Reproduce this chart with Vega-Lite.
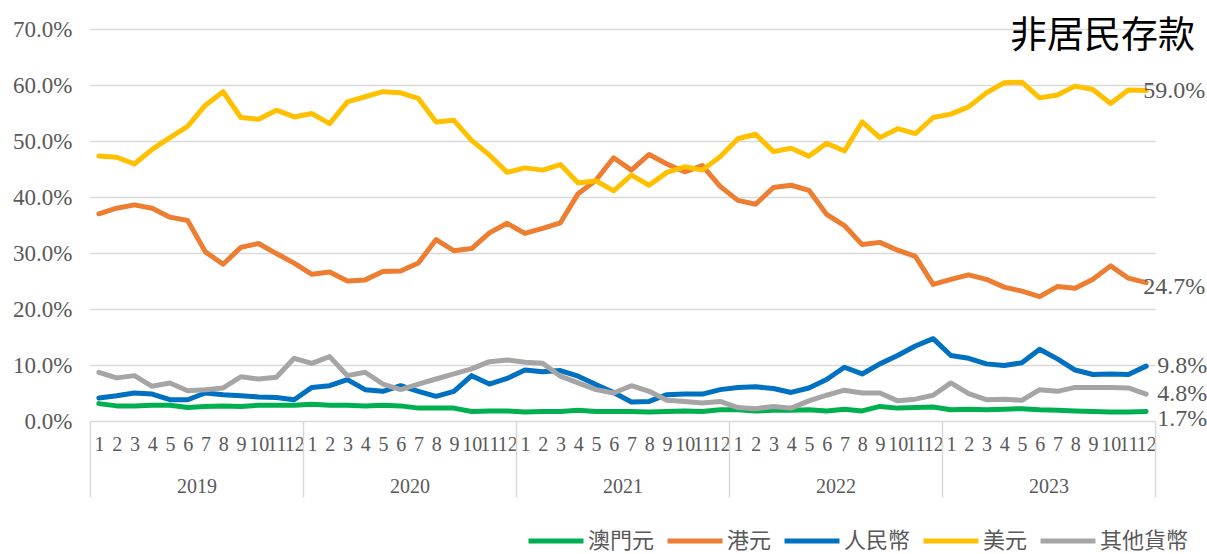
{
  "$schema": "https://vega.github.io/schema/vega-lite/v6.json",
  "width": 1065,
  "height": 392,
  "autosize": {"type": "none"},
  "padding": {"left": 90, "top": 29, "right": 52, "bottom": 133},
  "background": "white",
  "title": {"text": "非居民存款", "anchor": "end", "orient": "top", "frame": "group", "offset": -38, "dx": 40, "fontSize": 37, "font": "Noto Sans CJK TC", "fontWeight": "normal", "color": "#000000"},
  "config": {"view": {"stroke": null}},
  "datasets": {
    "d": [
      {"d":"2019-01","s":"澳門元","v":0.031},{"d":"2019-02","s":"澳門元","v":0.027},{"d":"2019-03","s":"澳門元","v":0.027},{"d":"2019-04","s":"澳門元","v":0.028},{"d":"2019-05","s":"澳門元","v":0.028},{"d":"2019-06","s":"澳門元","v":0.024},{"d":"2019-07","s":"澳門元","v":0.026},{"d":"2019-08","s":"澳門元","v":0.027},{"d":"2019-09","s":"澳門元","v":0.026},{"d":"2019-10","s":"澳門元","v":0.028},{"d":"2019-11","s":"澳門元","v":0.028},{"d":"2019-12","s":"澳門元","v":0.028},
      {"d":"2020-01","s":"澳門元","v":0.030},{"d":"2020-02","s":"澳門元","v":0.028},{"d":"2020-03","s":"澳門元","v":0.028},{"d":"2020-04","s":"澳門元","v":0.027},{"d":"2020-05","s":"澳門元","v":0.028},{"d":"2020-06","s":"澳門元","v":0.027},{"d":"2020-07","s":"澳門元","v":0.023},{"d":"2020-08","s":"澳門元","v":0.023},{"d":"2020-09","s":"澳門元","v":0.023},{"d":"2020-10","s":"澳門元","v":0.017},{"d":"2020-11","s":"澳門元","v":0.018},{"d":"2020-12","s":"澳門元","v":0.018},
      {"d":"2021-01","s":"澳門元","v":0.016},{"d":"2021-02","s":"澳門元","v":0.017},{"d":"2021-03","s":"澳門元","v":0.017},{"d":"2021-04","s":"澳門元","v":0.019},{"d":"2021-05","s":"澳門元","v":0.017},{"d":"2021-06","s":"澳門元","v":0.017},{"d":"2021-07","s":"澳門元","v":0.017},{"d":"2021-08","s":"澳門元","v":0.016},{"d":"2021-09","s":"澳門元","v":0.017},{"d":"2021-10","s":"澳門元","v":0.018},{"d":"2021-11","s":"澳門元","v":0.017},{"d":"2021-12","s":"澳門元","v":0.020},
      {"d":"2022-01","s":"澳門元","v":0.020},{"d":"2022-02","s":"澳門元","v":0.018},{"d":"2022-03","s":"澳門元","v":0.019},{"d":"2022-04","s":"澳門元","v":0.019},{"d":"2022-05","s":"澳門元","v":0.020},{"d":"2022-06","s":"澳門元","v":0.018},{"d":"2022-07","s":"澳門元","v":0.021},{"d":"2022-08","s":"澳門元","v":0.018},{"d":"2022-09","s":"澳門元","v":0.026},{"d":"2022-10","s":"澳門元","v":0.023},{"d":"2022-11","s":"澳門元","v":0.024},{"d":"2022-12","s":"澳門元","v":0.025},
      {"d":"2023-01","s":"澳門元","v":0.020},{"d":"2023-02","s":"澳門元","v":0.021},{"d":"2023-03","s":"澳門元","v":0.020},{"d":"2023-04","s":"澳門元","v":0.021},{"d":"2023-05","s":"澳門元","v":0.022},{"d":"2023-06","s":"澳門元","v":0.020},{"d":"2023-07","s":"澳門元","v":0.019},{"d":"2023-08","s":"澳門元","v":0.018},{"d":"2023-09","s":"澳門元","v":0.017},{"d":"2023-10","s":"澳門元","v":0.016},{"d":"2023-11","s":"澳門元","v":0.016},{"d":"2023-12","s":"澳門元","v":0.017},

      {"d":"2019-01","s":"港元","v":0.370},{"d":"2019-02","s":"港元","v":0.380},{"d":"2019-03","s":"港元","v":0.386},{"d":"2019-04","s":"港元","v":0.380},{"d":"2019-05","s":"港元","v":0.364},{"d":"2019-06","s":"港元","v":0.358},{"d":"2019-07","s":"港元","v":0.302},{"d":"2019-08","s":"港元","v":0.280},{"d":"2019-09","s":"港元","v":0.310},{"d":"2019-10","s":"港元","v":0.317},{"d":"2019-11","s":"港元","v":0.299},{"d":"2019-12","s":"港元","v":0.282},
      {"d":"2020-01","s":"港元","v":0.262},{"d":"2020-02","s":"港元","v":0.266},{"d":"2020-03","s":"港元","v":0.250},{"d":"2020-04","s":"港元","v":0.252},{"d":"2020-05","s":"港元","v":0.267},{"d":"2020-06","s":"港元","v":0.268},{"d":"2020-07","s":"港元","v":0.282},{"d":"2020-08","s":"港元","v":0.324},{"d":"2020-09","s":"港元","v":0.304},{"d":"2020-10","s":"港元","v":0.308},{"d":"2020-11","s":"港元","v":0.336},{"d":"2020-12","s":"港元","v":0.353},
      {"d":"2021-01","s":"港元","v":0.335},{"d":"2021-02","s":"港元","v":0.344},{"d":"2021-03","s":"港元","v":0.354},{"d":"2021-04","s":"港元","v":0.406},{"d":"2021-05","s":"港元","v":0.430},{"d":"2021-06","s":"港元","v":0.470},{"d":"2021-07","s":"港元","v":0.448},{"d":"2021-08","s":"港元","v":0.476},{"d":"2021-09","s":"港元","v":0.459},{"d":"2021-10","s":"港元","v":0.445},{"d":"2021-11","s":"港元","v":0.456},{"d":"2021-12","s":"港元","v":0.419},
      {"d":"2022-01","s":"港元","v":0.394},{"d":"2022-02","s":"港元","v":0.387},{"d":"2022-03","s":"港元","v":0.417},{"d":"2022-04","s":"港元","v":0.421},{"d":"2022-05","s":"港元","v":0.412},{"d":"2022-06","s":"港元","v":0.369},{"d":"2022-07","s":"港元","v":0.349},{"d":"2022-08","s":"港元","v":0.315},{"d":"2022-09","s":"港元","v":0.319},{"d":"2022-10","s":"港元","v":0.305},{"d":"2022-11","s":"港元","v":0.294},{"d":"2022-12","s":"港元","v":0.244},
      {"d":"2023-01","s":"港元","v":0.253},{"d":"2023-02","s":"港元","v":0.261},{"d":"2023-03","s":"港元","v":0.253},{"d":"2023-04","s":"港元","v":0.239},{"d":"2023-05","s":"港元","v":0.232},{"d":"2023-06","s":"港元","v":0.222},{"d":"2023-07","s":"港元","v":0.240},{"d":"2023-08","s":"港元","v":0.237},{"d":"2023-09","s":"港元","v":0.253},{"d":"2023-10","s":"港元","v":0.277},{"d":"2023-11","s":"港元","v":0.255},{"d":"2023-12","s":"港元","v":0.247},

      {"d":"2019-01","s":"人民幣","v":0.041},{"d":"2019-02","s":"人民幣","v":0.045},{"d":"2019-03","s":"人民幣","v":0.050},{"d":"2019-04","s":"人民幣","v":0.048},{"d":"2019-05","s":"人民幣","v":0.038},{"d":"2019-06","s":"人民幣","v":0.038},{"d":"2019-07","s":"人民幣","v":0.050},{"d":"2019-08","s":"人民幣","v":0.047},{"d":"2019-09","s":"人民幣","v":0.045},{"d":"2019-10","s":"人民幣","v":0.043},{"d":"2019-11","s":"人民幣","v":0.042},{"d":"2019-12","s":"人民幣","v":0.038},
      {"d":"2020-01","s":"人民幣","v":0.060},{"d":"2020-02","s":"人民幣","v":0.063},{"d":"2020-03","s":"人民幣","v":0.074},{"d":"2020-04","s":"人民幣","v":0.056},{"d":"2020-05","s":"人民幣","v":0.053},{"d":"2020-06","s":"人民幣","v":0.063},{"d":"2020-07","s":"人民幣","v":0.053},{"d":"2020-08","s":"人民幣","v":0.044},{"d":"2020-09","s":"人民幣","v":0.053},{"d":"2020-10","s":"人民幣","v":0.081},{"d":"2020-11","s":"人民幣","v":0.066},{"d":"2020-12","s":"人民幣","v":0.076},
      {"d":"2021-01","s":"人民幣","v":0.091},{"d":"2021-02","s":"人民幣","v":0.088},{"d":"2021-03","s":"人民幣","v":0.090},{"d":"2021-04","s":"人民幣","v":0.080},{"d":"2021-05","s":"人民幣","v":0.065},{"d":"2021-06","s":"人民幣","v":0.051},{"d":"2021-07","s":"人民幣","v":0.034},{"d":"2021-08","s":"人民幣","v":0.035},{"d":"2021-09","s":"人民幣","v":0.047},{"d":"2021-10","s":"人民幣","v":0.048},{"d":"2021-11","s":"人民幣","v":0.048},{"d":"2021-12","s":"人民幣","v":0.056},
      {"d":"2022-01","s":"人民幣","v":0.060},{"d":"2022-02","s":"人民幣","v":0.061},{"d":"2022-03","s":"人民幣","v":0.058},{"d":"2022-04","s":"人民幣","v":0.051},{"d":"2022-05","s":"人民幣","v":0.059},{"d":"2022-06","s":"人民幣","v":0.074},{"d":"2022-07","s":"人民幣","v":0.096},{"d":"2022-08","s":"人民幣","v":0.084},{"d":"2022-09","s":"人民幣","v":0.102},{"d":"2022-10","s":"人民幣","v":0.117},{"d":"2022-11","s":"人民幣","v":0.134},{"d":"2022-12","s":"人民幣","v":0.147},
      {"d":"2023-01","s":"人民幣","v":0.117},{"d":"2023-02","s":"人民幣","v":0.112},{"d":"2023-03","s":"人民幣","v":0.102},{"d":"2023-04","s":"人民幣","v":0.099},{"d":"2023-05","s":"人民幣","v":0.104},{"d":"2023-06","s":"人民幣","v":0.128},{"d":"2023-07","s":"人民幣","v":0.111},{"d":"2023-08","s":"人民幣","v":0.091},{"d":"2023-09","s":"人民幣","v":0.083},{"d":"2023-10","s":"人民幣","v":0.084},{"d":"2023-11","s":"人民幣","v":0.083},{"d":"2023-12","s":"人民幣","v":0.098},

      {"d":"2019-01","s":"美元","v":0.473},{"d":"2019-02","s":"美元","v":0.471},{"d":"2019-03","s":"美元","v":0.459},{"d":"2019-04","s":"美元","v":0.485},{"d":"2019-05","s":"美元","v":0.506},{"d":"2019-06","s":"美元","v":0.526},{"d":"2019-07","s":"美元","v":0.564},{"d":"2019-08","s":"美元","v":0.588},{"d":"2019-09","s":"美元","v":0.542},{"d":"2019-10","s":"美元","v":0.539},{"d":"2019-11","s":"美元","v":0.555},{"d":"2019-12","s":"美元","v":0.543},
      {"d":"2020-01","s":"美元","v":0.549},{"d":"2020-02","s":"美元","v":0.531},{"d":"2020-03","s":"美元","v":0.570},{"d":"2020-04","s":"美元","v":0.579},{"d":"2020-05","s":"美元","v":0.588},{"d":"2020-06","s":"美元","v":0.586},{"d":"2020-07","s":"美元","v":0.576},{"d":"2020-08","s":"美元","v":0.534},{"d":"2020-09","s":"美元","v":0.537},{"d":"2020-10","s":"美元","v":0.501},{"d":"2020-11","s":"美元","v":0.475},{"d":"2020-12","s":"美元","v":0.444},
      {"d":"2021-01","s":"美元","v":0.452},{"d":"2021-02","s":"美元","v":0.448},{"d":"2021-03","s":"美元","v":0.458},{"d":"2021-04","s":"美元","v":0.425},{"d":"2021-05","s":"美元","v":0.429},{"d":"2021-06","s":"美元","v":0.411},{"d":"2021-07","s":"美元","v":0.439},{"d":"2021-08","s":"美元","v":0.421},{"d":"2021-09","s":"美元","v":0.444},{"d":"2021-10","s":"美元","v":0.454},{"d":"2021-11","s":"美元","v":0.448},{"d":"2021-12","s":"美元","v":0.472},
      {"d":"2022-01","s":"美元","v":0.504},{"d":"2022-02","s":"美元","v":0.512},{"d":"2022-03","s":"美元","v":0.481},{"d":"2022-04","s":"美元","v":0.487},{"d":"2022-05","s":"美元","v":0.473},{"d":"2022-06","s":"美元","v":0.496},{"d":"2022-07","s":"美元","v":0.482},{"d":"2022-08","s":"美元","v":0.534},{"d":"2022-09","s":"美元","v":0.506},{"d":"2022-10","s":"美元","v":0.522},{"d":"2022-11","s":"美元","v":0.513},{"d":"2022-12","s":"美元","v":0.542},
      {"d":"2023-01","s":"美元","v":0.548},{"d":"2023-02","s":"美元","v":0.561},{"d":"2023-03","s":"美元","v":0.586},{"d":"2023-04","s":"美元","v":0.604},{"d":"2023-05","s":"美元","v":0.605},{"d":"2023-06","s":"美元","v":0.577},{"d":"2023-07","s":"美元","v":0.582},{"d":"2023-08","s":"美元","v":0.598},{"d":"2023-09","s":"美元","v":0.592},{"d":"2023-10","s":"美元","v":0.567},{"d":"2023-11","s":"美元","v":0.591},{"d":"2023-12","s":"美元","v":0.590},

      {"d":"2019-01","s":"其他貨幣","v":0.087},{"d":"2019-02","s":"其他貨幣","v":0.077},{"d":"2019-03","s":"其他貨幣","v":0.081},{"d":"2019-04","s":"其他貨幣","v":0.062},{"d":"2019-05","s":"其他貨幣","v":0.068},{"d":"2019-06","s":"其他貨幣","v":0.054},{"d":"2019-07","s":"其他貨幣","v":0.056},{"d":"2019-08","s":"其他貨幣","v":0.059},{"d":"2019-09","s":"其他貨幣","v":0.079},{"d":"2019-10","s":"其他貨幣","v":0.075},{"d":"2019-11","s":"其他貨幣","v":0.078},{"d":"2019-12","s":"其他貨幣","v":0.112},
      {"d":"2020-01","s":"其他貨幣","v":0.103},{"d":"2020-02","s":"其他貨幣","v":0.115},{"d":"2020-03","s":"其他貨幣","v":0.081},{"d":"2020-04","s":"其他貨幣","v":0.087},{"d":"2020-05","s":"其他貨幣","v":0.066},{"d":"2020-06","s":"其他貨幣","v":0.056},{"d":"2020-07","s":"其他貨幣","v":0.066},{"d":"2020-08","s":"其他貨幣","v":0.075},{"d":"2020-09","s":"其他貨幣","v":0.084},{"d":"2020-10","s":"其他貨幣","v":0.093},{"d":"2020-11","s":"其他貨幣","v":0.106},{"d":"2020-12","s":"其他貨幣","v":0.109},
      {"d":"2021-01","s":"其他貨幣","v":0.105},{"d":"2021-02","s":"其他貨幣","v":0.103},{"d":"2021-03","s":"其他貨幣","v":0.080},{"d":"2021-04","s":"其他貨幣","v":0.068},{"d":"2021-05","s":"其他貨幣","v":0.056},{"d":"2021-06","s":"其他貨幣","v":0.050},{"d":"2021-07","s":"其他貨幣","v":0.063},{"d":"2021-08","s":"其他貨幣","v":0.053},{"d":"2021-09","s":"其他貨幣","v":0.037},{"d":"2021-10","s":"其他貨幣","v":0.035},{"d":"2021-11","s":"其他貨幣","v":0.032},{"d":"2021-12","s":"其他貨幣","v":0.035},
      {"d":"2022-01","s":"其他貨幣","v":0.024},{"d":"2022-02","s":"其他貨幣","v":0.022},{"d":"2022-03","s":"其他貨幣","v":0.026},{"d":"2022-04","s":"其他貨幣","v":0.023},{"d":"2022-05","s":"其他貨幣","v":0.036},{"d":"2022-06","s":"其他貨幣","v":0.046},{"d":"2022-07","s":"其他貨幣","v":0.055},{"d":"2022-08","s":"其他貨幣","v":0.050},{"d":"2022-09","s":"其他貨幣","v":0.050},{"d":"2022-10","s":"其他貨幣","v":0.036},{"d":"2022-11","s":"其他貨幣","v":0.039},{"d":"2022-12","s":"其他貨幣","v":0.046},
      {"d":"2023-01","s":"其他貨幣","v":0.068},{"d":"2023-02","s":"其他貨幣","v":0.049},{"d":"2023-03","s":"其他貨幣","v":0.038},{"d":"2023-04","s":"其他貨幣","v":0.039},{"d":"2023-05","s":"其他貨幣","v":0.037},{"d":"2023-06","s":"其他貨幣","v":0.056},{"d":"2023-07","s":"其他貨幣","v":0.053},{"d":"2023-08","s":"其他貨幣","v":0.060},{"d":"2023-09","s":"其他貨幣","v":0.060},{"d":"2023-10","s":"其他貨幣","v":0.060},{"d":"2023-11","s":"其他貨幣","v":0.059},{"d":"2023-12","s":"其他貨幣","v":0.048}
    ]
  },
  "data": {"name": "d"},
  "encoding": {
    "y": {
      "field": "v", "type": "quantitative",
      "scale": {"domain": [0, 0.7], "nice": false, "zero": true},
      "axis": {
        "values": [0, 0.1, 0.2, 0.3, 0.4, 0.5, 0.6, 0.7],
        "format": ".1%", "title": null, "grid": true, "gridColor": "#D9D9D9", "gridWidth": 1.5,
        "domain": false, "ticks": false, "labelPadding": 18,
        "labelFont": "Liberation Serif", "labelFontSize": 23, "labelColor": "#595959"
      }
    }
  },
  "layer": [
    {
      "mark": {"type": "line", "strokeWidth": 5, "strokeCap": "round", "strokeJoin": "round"},
      "encoding": {
        "x": {
          "field": "d", "type": "ordinal",
          "axis": {
            "orient": "bottom", "title": null, "labelAngle": 0, "labelOverlap": false, "ticks": false, "domain": false, "grid": false,
            "labelExpr": "toNumber(slice(datum.value, 5))", "labelPadding": 13,
            "labelFont": "Liberation Serif", "labelFontSize": 20, "labelColor": "#595959"
          }
        },
        "color": {
          "field": "s", "type": "nominal",
          "scale": {"domain": ["澳門元", "港元", "人民幣", "美元", "其他貨幣"], "range": ["#00B050", "#ED7D31", "#0070C0", "#FFC000", "#A5A5A5"]},
          "legend": {
            "orient": "none", "legendX": 436, "legendY": 482, "direction": "horizontal", "title": null,
            "symbolType": "stroke", "symbolSize": 3025, "symbolStrokeWidth": 5,
            "labelFont": "Noto Sans CJK TC", "labelFontSize": 22, "labelColor": "#595959",
            "labelOffset": 2, "columnPadding": 2
          }
        }
      }
    },
    {
      "transform": [{"filter": "datum.d == '2023-12' && datum.s == '美元'"}],
      "mark": {"type": "text", "align": "left", "baseline": "middle", "dx": -3, "font": "Liberation Serif", "fontSize": 24, "color": "#595959"},
      "encoding": {
        "x": {
          "field": "d", "type": "ordinal",
          "axis": {
            "orient": "bottom", "title": null, "values": ["2019-01", "2020-01", "2021-01", "2022-01", "2023-01"],
            "labelExpr": "slice(datum.value, 0, 4)", "labelAngle": 0, "labelOverlap": false,
            "tickOffset": -8.875, "labelOffset": 106.5, "tickSize": 76, "tickColor": "#D9D9D9", "tickWidth": 1.5,
            "labelPadding": -21, "domain": false, "grid": false,
            "labelFont": "Liberation Serif", "labelFontSize": 20, "labelColor": "#595959"
          }
        },
        "text": {"field": "v", "type": "quantitative", "format": ".1%"}
      }
    },
    {
      "transform": [{"filter": "datum.d == '2023-12' && datum.s == '港元'"}],
      "mark": {"type": "text", "align": "left", "baseline": "middle", "dx": -3, "dy": 4, "font": "Liberation Serif", "fontSize": 24, "color": "#595959"},
      "encoding": {
        "x": {
          "field": "d", "type": "ordinal",
          "axis": {
            "orient": "bottom", "title": null, "values": ["2023-12"], "labels": false,
            "tickOffset": 8.875, "tickSize": 76, "tickColor": "#D9D9D9", "tickWidth": 1.5,
            "domain": false, "grid": false
          }
        },
        "text": {"field": "v", "type": "quantitative", "format": ".1%"}
      }
    },
    {
      "transform": [{"filter": "datum.d == '2023-12' && (datum.s == '人民幣' || datum.s == '其他貨幣')"}],
      "mark": {"type": "text", "align": "left", "baseline": "middle", "dx": 11, "font": "Liberation Serif", "fontSize": 24, "color": "#595959"},
      "encoding": {
        "x": {"field": "d", "type": "ordinal", "axis": null},
        "text": {"field": "v", "type": "quantitative", "format": ".1%"}
      }
    },
    {
      "transform": [{"filter": "datum.d == '2023-12' && datum.s == '澳門元'"}],
      "mark": {"type": "text", "align": "left", "baseline": "middle", "dx": 11, "dy": 8, "font": "Liberation Serif", "fontSize": 24, "color": "#595959"},
      "encoding": {
        "x": {"field": "d", "type": "ordinal", "axis": null},
        "text": {"field": "v", "type": "quantitative", "format": ".1%"}
      }
    }
  ],
  "resolve": {"axis": {"x": "independent"}}
}
